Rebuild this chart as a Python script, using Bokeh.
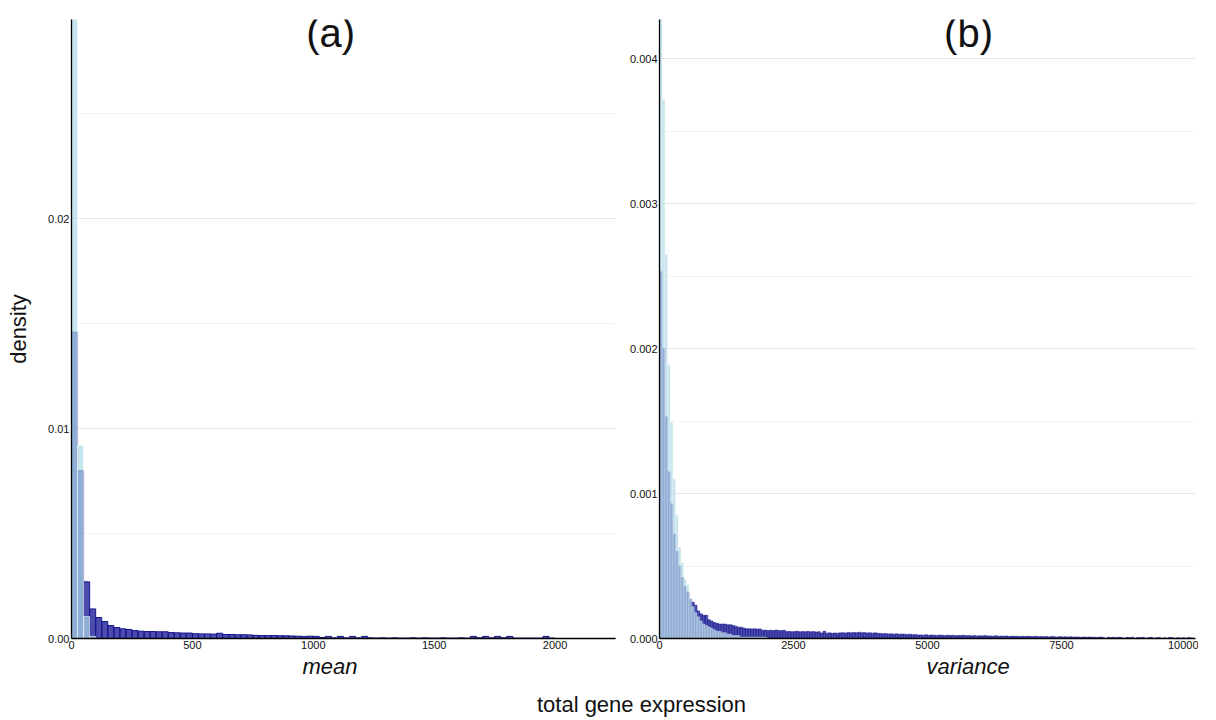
import numpy as np
from bokeh.plotting import figure
from bokeh.layouts import row, column
from bokeh.models import (Range1d, SingleIntervalTicker, Label, ColumnDataSource,
                          NumeralTickFormatter, Title)
from bokeh.embed import file_html
from bokeh.resources import INLINE

# ---------------- data (densities) ----------------
MEAN_BIN = 25      # bin width of the 'mean' histograms
VAR_BIN = 50       # bin width of the 'variance' histograms

mean_dark = [
    0.0146, 0.0080, 0.0027, 0.00141, 0.00100, 0.00081, 0.00062, 0.00052, 0.00046, 0.00043,
    0.00038, 0.00035, 0.00033, 0.00033, 0.00032, 0.00032, 0.00028, 0.00027, 0.00026, 0.00026,
    0.00023, 0.00022, 0.00022, 0.00021, 0.00025, 0.00019, 0.00019, 0.00018, 0.00018, 0.00017,
    0.00015, 0.00014, 0.00014, 0.00014, 0.00013, 0.00013, 0.00012, 0.00011, 0.00010, 0.00011,
    0.00010, 0.00005, 0.00010, 0.00003, 0.00010, 0.00003, 0.00010, 0.00003, 0.00010, 0.00003,
    0.00002, 0.00003, 0.00002, 0.00003, 0.00002, 0.00002, 0.00003, 0.00002, 0.00003, 0.00002,
    0.00002, 0.00003, 0.00002, 0.00002, 0.00003, 0.00002, 0.00010, 0.00003, 0.00010, 0.00003,
    0.00010, 0.00003, 0.00010, 0.00002, 0.00002, 0.00002, 0.00002, 0.00002, 0.00010, 0.00002,
    0.0, 0.0, 0.0, 0.0, 0.0, 0.0, 0.0, 0.0, 0.0, 0.0,
]
mean_light = [0.0302, 0.0092, 0.00105, 0.0001] + [0.0] * 86

var_dark = [
    0.00253, 0.00200, 0.00153, 0.00115, 0.00093, 0.00072, 0.00060, 0.00050, 0.00042, 0.00036,
    0.00032, 0.00027, 0.00025, 0.00023, 0.00019, 0.00017, 0.00016, 0.00016, 0.00013, 0.00012,
    0.000110, 0.000105, 0.000100, 0.000100, 0.000100, 0.000095, 0.000095, 0.000090, 0.000085, 0.000078,
    0.000078, 0.000072, 0.000067, 0.000068, 0.000066, 0.000067, 0.000065, 0.000066, 0.000057, 0.000058,
    0.000056, 0.000057, 0.000055, 0.000058, 0.000056, 0.000054, 0.000057, 0.000048, 0.000049, 0.000047,
    0.000048, 0.000050, 0.000046, 0.000048, 0.000047, 0.000049, 0.000046, 0.000048, 0.000045, 0.000047,
    0.000038, 0.000050, 0.000037, 0.000039, 0.000036, 0.000038, 0.000037, 0.000039, 0.000040, 0.000038,
    0.000041, 0.000039,
    0.000042, 0.000040, 0.000043, 0.000039, 0.000041, 0.000038, 0.000040, 0.000037, 0.000039, 0.000036,
    0.000035, 0.000033, 0.000034, 0.000031, 0.000033, 0.000030, 0.000032, 0.000029, 0.000031, 0.000030,
    0.000028, 0.000030, 0.000026, 0.000027, 0.000024, 0.000025, 0.000023, 0.000026, 0.000022, 0.000024,
    0.000023, 0.000021, 0.000024, 0.000022, 0.000020, 0.000023, 0.000021, 0.000022, 0.000019, 0.000021,
    0.000020, 0.000022, 0.000019, 0.000021, 0.000018, 0.000020, 0.000017, 0.000019, 0.000018, 0.000020,
    0.000017, 0.000018, 0.000016, 0.000019, 0.000015, 0.000017, 0.000016, 0.000018, 0.000014, 0.000016,
    0.000015, 0.000016, 0.000014, 0.000015, 0.000013, 0.000016, 0.000014, 0.000013, 0.000015, 0.000012,
    0.000014, 0.000012, 0.000013, 0.000011, 0.000014, 0.000012, 0.000010, 0.000013, 0.000011, 0.000012,
    0.000010, 0.000012, 0.000009, 0.000011, 0.000010, 0.000008, 0.000011, 0.000009, 0.000010, 0.000008,
    0.000009, 0.000007, 0.000010, 0.000008, 0.0, 0.000009, 0.000007, 0.000008, 0.000006, 0.000009,
    0.000007, 0.0, 0.000008, 0.000006, 0.000009, 0.0, 0.000007, 0.000005, 0.000008, 0.0,
    0.000006, 0.000008, 0.0, 0.000005, 0.000007, 0.0, 0.000006, 0.0, 0.000008, 0.000005,
    0.0, 0.000006, 0.0, 0.000005, 0.0, 0.000007, 0.000004, 0.0,
]
var_light = [
    0.0051, 0.00372, 0.00265, 0.00189, 0.00149, 0.00110, 0.00085, 0.00063, 0.00052, 0.00041,
    0.00037, 0.00028, 0.00022, 0.00018, 0.00015, 0.00012, 0.00010, 0.00009, 0.00008, 0.00007,
    0.00006, 0.00005, 0.00005, 0.00004, 0.00004, 0.00003, 0.00003, 0.00002, 0.00002, 0.00002,
    0.00001, 0.00001, 0.00001, 0.00001, 0.00001, 0.00001, 0.00001, 0.00001, 0.00001, 0.00001,
] + [0.0] * 160

FONT = "Liberation Sans"
DARK = "darkblue"
LIGHT = "lightblue"


def make_panel(dark, light, bw, xmax, ymax, xint, yint, yfmt, width, border_left,
               border_right, line_w, xlabel, xlabel_offset):
    n = len(dark)
    left = [i * bw for i in range(n)]
    right = [(i + 1) * bw for i in range(n)]
    src = ColumnDataSource(dict(left=left, right=right, dark=dark, light=light))
    p = figure(width=width, height=685, x_range=Range1d(0, xmax), y_range=Range1d(0, ymax),
               output_backend="svg", toolbar_location=None,
               min_border_left=border_left, min_border_right=border_right,
               min_border_top=19, min_border_bottom=47)
    p.outline_line_color = None
    p.quad(left="left", right="right", top="dark", bottom=0, source=src,
           fill_color=DARK, fill_alpha=0.7, line_color="#16168a", line_width=line_w)
    p.quad(left="left", right="right", top="light", bottom=0, source=src,
           fill_color=LIGHT, fill_alpha=0.7, line_color="white", line_alpha=0.6, line_width=line_w)
    p.xaxis.ticker = SingleIntervalTicker(interval=xint, num_minor_ticks=0)
    p.yaxis.ticker = SingleIntervalTicker(interval=yint, num_minor_ticks=2)
    p.yaxis.formatter = NumeralTickFormatter(format=yfmt)
    p.xgrid.grid_line_color = None
    p.ygrid.grid_line_color = "#e6e6e6"
    p.ygrid.minor_grid_line_color = "#f3f3f3"
    for ax in (p.xaxis, p.yaxis):
        ax.axis_line_color = "black"
        ax.axis_line_width = 1.3
        ax.major_tick_out = 0
        ax.major_tick_in = 0
        ax.minor_tick_out = 0
        ax.minor_tick_in = 0
        ax.major_label_text_font = FONT
        ax.major_label_text_font_size = "11px"
        ax.major_label_text_color = "#111111"
        ax.major_label_standoff = 2
        ax.axis_label_text_font = FONT
        ax.axis_label_text_font_size = "22px"
        ax.axis_label_text_color = "#111111"
    p.add_layout(Title(text=xlabel, align="left", offset=xlabel_offset, standoff=0,
                       text_font=FONT, text_font_size="22px", text_font_style="italic",
                       text_color="#111111"), "below")
    return p


p1 = make_panel(mean_dark, mean_light, MEAN_BIN, 2250, 0.0295, 500, 0.01, "0.00",
                620, 71, 5, 1.0, "mean", 231)
p2 = make_panel(var_dark, var_light, VAR_BIN, 10000, 0.00427, 2500, 0.001, "0.000",
                578, 39, 3, 0.5, "variance", 267)
p1.yaxis.axis_label = "density"
p1.yaxis.axis_label_text_font_style = "normal"
p1.yaxis.axis_label_standoff = 14


def add_title(p, x, y, text):
    p.add_layout(Label(x=x, y=y, text=text, text_font=FONT, text_font_size="40px",
                       text_align="center", text_baseline="middle",
                       y_offset=-13, text_color="#111111"))

add_title(p1, 1072, 0.0295, "(a)")
add_title(p2, 5765, 0.00427, "(b)")

p3 = figure(width=1216, height=35, x_range=Range1d(0, 1216), y_range=Range1d(0, 35),
            x_axis_type=None, y_axis_type=None, output_backend="svg", toolbar_location=None,
            min_border=0)
p3.outline_line_color = None
p3.grid.visible = False
p3.add_layout(Label(x=641, y=16, text="total gene expression", text_font=FONT,
                    text_font_size="22px", text_align="center", text_baseline="middle",
                    text_color="#111111"))

layout = column(row(p1, p2), p3)
open("out.html", "w").write(file_html(layout, INLINE))
